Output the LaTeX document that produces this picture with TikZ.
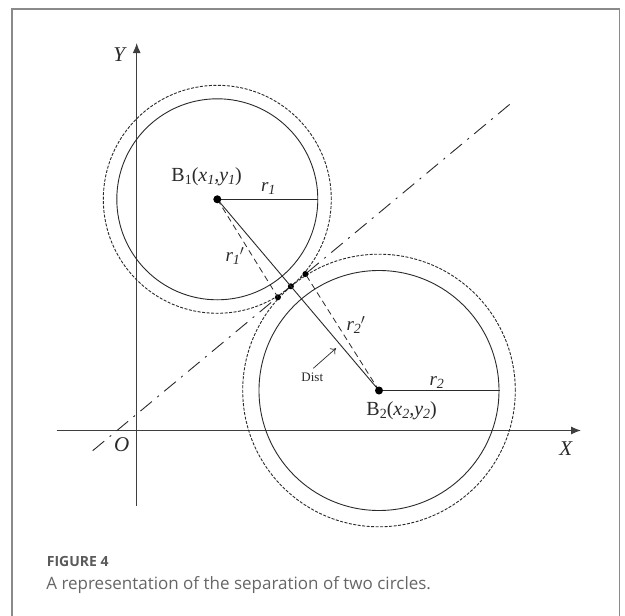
\documentclass[tikz,border=0pt]{standalone}
\usepackage{fontspec}
\setmainfont{Liberation Serif}
\newfontfamily\capfont{Open Sans}
\usetikzlibrary{arrows.meta}
\newcommand{\sbs}[1]{\raisebox{-0.3ex}{\fontsize{14}{14}\selectfont #1}}
\definecolor{ink}{HTML}{2A2A2A}
\definecolor{framec}{HTML}{8A8A8A}
\definecolor{capc}{HTML}{666666}
\definecolor{figc}{HTML}{5A5A5A}
\begin{document}
\begin{tikzpicture}[x=1pt,y=-1pt,
  axis/.style={draw=ink!90, line width=1.1pt, -{Latex[length=10pt,width=8pt]}},
  solidc/.style={draw=ink, line width=0.9pt},
  dashc/.style={draw=ink, line width=0.9pt, dash pattern=on 3pt off 1.5pt},
  dashl/.style={draw=ink, line width=0.8pt, dash pattern=on 6pt off 4pt},
  dashdot/.style={draw=ink, line width=0.9pt, dash pattern=on 15pt off 7pt on 2pt off 7pt},
  lbl/.style={inner sep=0pt, font=\fontsize{20}{20}\selectfont, text=ink},
  rlbl/.style={inner sep=0pt, font=\fontsize{19}{19}\selectfont\itshape, text=ink},
  bigdot/.style={circle, fill=black, inner sep=0pt, minimum size=8pt},
  smalldot/.style={circle, fill=black, inner sep=0pt, minimum size=6pt}]
\clip (0,0) rectangle (625,616);
\useasboundingbox (0,0) rectangle (625,616);
\fill[white] (0,0) rectangle (625,616);
% frame
\draw[framec, line width=1.2pt] (12,620) -- (12,9) -- (619.5,9) -- (619.5,620);
% points
\coordinate (B1) at (217.3,199.3);
\coordinate (B2) at (379,390.5);
\coordinate (xs) at (56.7,430.5);
\coordinate (xe) at (581,430.5);
\coordinate (ys) at (136.7,506);
\coordinate (ye) at (136.7,43);
\coordinate (dd1) at (92.7,450.7);
\coordinate (dd2) at (511.7,102.7);
\coordinate (R1) at (318,199.3);
\coordinate (R2) at (500,390.5);
\coordinate (da) at (313.3,368.3);
\coordinate (db) at (336,348.3);
% axes
\draw[axis] (xs) -- (xe);
\draw[axis] (ys) -- (ye);
% circles
\draw[solidc] (B1) circle[radius=100.5pt];
\draw[dashc] (B1) circle[radius=114pt];
\draw[solidc] (B2) circle[radius=120pt];
\draw[dashc] (B2) circle[radius=136.3pt];
% dash-dot line
\draw[dashdot] (dd1) -- (dd2);
% dots
\node[smalldot] (T) at (290.9,286.3) {};
\node[smalldot] (L) at (277.9,297.3) {};
\node[smalldot] (U) at (305.4,274.0) {};
% radii
\draw[solidc] (B1) -- (R1);
\draw[solidc] (B2) -- (R2);
\draw[solidc] (B1) -- (B2);
\draw[dashl] (B1) -- (L.center);
\draw[dashl] (B2) -- (U.center);
\node[bigdot] (b1dot) at (B1) {};
\node[bigdot] (b2dot) at (B2) {};
% Dist arrow
\draw[ink, line width=0.7pt, -{To[length=5pt,width=8pt]}] (da) -- (db);
\node[inner sep=0pt, font=\fontsize{13}{13}\selectfont, text=ink] (dist) at (312.3,377) {Dist};
% labels
\node[lbl] (lb1) at (206.7,176.7) {B\sbs{1}(\textit{x\sbs{1},y\sbs{1}})};
\node[lbl] (lb2) at (401.7,410.7) {B\sbs{2}(\textit{x\sbs{2},y\sbs{2}})};
\node[rlbl] (r1) at (268.3,188.3) {r\sbs{1}};
\node[rlbl] (r1p) at (235,256) {r\sbs{1}$'$};
\node[rlbl] (r2p) at (356,325) {r\sbs{2}$'$};
\node[rlbl] (r2) at (436.7,382.7) {r\sbs{2}};
\node[rlbl, font=\fontsize{21}{21}\selectfont\itshape] (Ylab) at (119.3,55) {Y};
\node[rlbl, font=\fontsize{21}{21}\selectfont\itshape] (Xlab) at (565.7,449) {X};
\node[rlbl, font=\fontsize{21}{21}\selectfont\itshape] (Olab) at (121.7,445) {O};
% caption
\node[inner sep=0pt, anchor=base west, text=figc, font=\capfont\bfseries\fontsize{14}{14}\selectfont] (fig) at (46.7,566) {FIGURE 4};
\node[inner sep=0pt, anchor=base west, text=capc, font=\capfont\fontsize{17}{17}\selectfont] (cap) at (46.2,589.3) {A representation of the separation of two circles.};
\end{tikzpicture}
\end{document}
